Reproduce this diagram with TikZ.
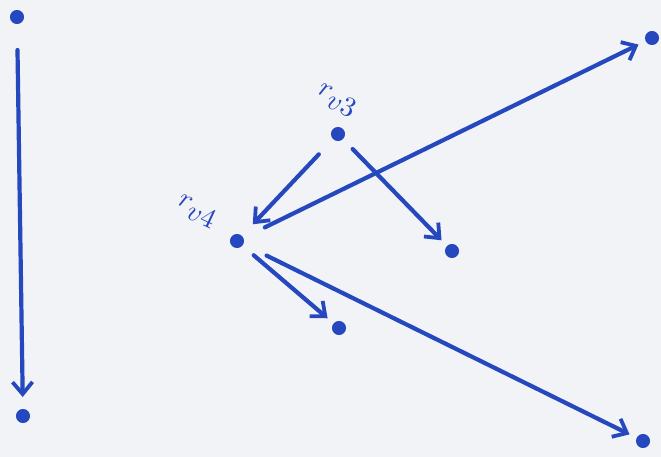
\documentclass[tikz,border=0pt]{standalone}
\usetikzlibrary{arrows.meta}
\definecolor{ink}{RGB}{38,72,190}
\definecolor{paper}{RGB}{242,243,247}
\begin{document}
\begin{tikzpicture}[x=1pt,y=-1pt,
  dot/.style={circle,fill=ink,draw=ink,line width=1pt,minimum size=13pt,inner sep=0pt},
  edge/.style={draw=ink,line width=4.2pt,line cap=round,
    -{Straight Barb[length=12pt,width=20pt,line width=3.8pt]}},
  lab/.style={text=ink,scale=2.8,inner sep=0pt}]
\fill[paper] (0,0) rectangle (661,457);
\useasboundingbox (0,0) rectangle (661,457);
\node[dot] (tl) at (17,17) {};
\node[dot] (bl) at (23,416) {};
\node[dot] (tr) at (652,38) {};
\node[dot] (br) at (643,441) {};
\node[dot] (v3) at (338,134) {};
\node[dot] (v4) at (237,241) {};
\node[dot] (a) at (452,251) {};
\node[dot] (b) at (339,328) {};
\node[lab,rotate=-25] (l3) at (337,101) {$r_{\textstyle v3}$};
\node[lab,rotate=-25] (l4) at (197,212) {$r_{\textstyle v4}$};
\draw[edge,shorten <=26pt,shorten >=12pt] (tl) -- (bl);
\draw[edge,shorten <=21pt,shorten >=16pt] (v3) -- (v4);
\draw[edge,shorten <=14pt,shorten >=8pt] (v3) -- (a);
\draw[edge,shorten <=24pt,shorten >=8pt] (v4) -- (tr);
\draw[edge,shorten <=15pt,shorten >=8pt] (v4) -- (b);
\draw[edge,shorten <=26pt,shorten >=8pt] (v4) -- (br);
\end{tikzpicture}
\end{document}
